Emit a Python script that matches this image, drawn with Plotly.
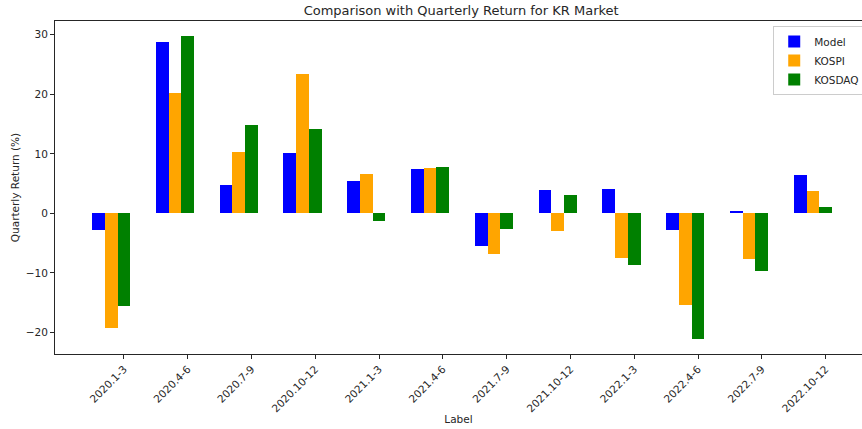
import plotly.graph_objects as go

labels = ['2020.1-3', '2020.4-6', '2020.7-9', '2020.10-12', '2021.1-3', '2021.4-6',
          '2021.7-9', '2021.10-12', '2022.1-3', '2022.4-6', '2022.7-9', '2022.10-12']
model = [-2.8, 28.7, 4.7, 10.1, 5.4, 7.4, -5.4, 4.0, 4.1, -2.8, 0.4, 6.4]
kospi = [-19.3, 20.2, 10.35, 23.4, 6.55, 7.6, -6.85, -2.9, -7.4, -15.4, -7.6, 3.75]
kosdaq = [-15.6, 29.7, 14.9, 14.2, -1.2, 7.8, -2.6, 3.05, -8.6, -21.0, -9.7, 1.0]

series = [('Model', model, 'blue', -0.5),
          ('KOSPI', kospi, 'orange', -0.3),
          ('KOSDAQ', kosdaq, 'green', -0.1)]

fig = go.Figure()
for name, vals, color, off in series:
    fig.add_trace(go.Bar(x=labels, y=vals, name=name, width=0.2, offset=off,
                         marker=dict(color=color, line=dict(width=0))))

axis_style = dict(showgrid=False, zeroline=False, showline=True, linecolor='#262626',
                  linewidth=1, ticks='outside', ticklen=4, tickcolor='#262626',
                  tickfont=dict(size=10.5, color='#262626'))

fig.update_layout(
    width=862, height=429,
    margin=dict(l=55, r=0, t=21, b=75, autoexpand=False),
    barmode='overlay',
    plot_bgcolor='white', paper_bgcolor='white',
    font=dict(family='DejaVu Sans', color='#262626'),
    title=dict(text='Comparison with Quarterly Return for KR Market', x=0.535, xanchor='center',
               y=0.975, yanchor='middle', font=dict(size=13)),
    xaxis=dict(**axis_style, mirror=True, range=[-1.08, 11.57], tickangle=-45,
               title=dict(text='Label', font=dict(size=10.5), standoff=2)),
    yaxis=dict(**axis_style, range=[-23.6, 32.3], tickvals=[-20, -10, 0, 10, 20, 30],
               title=dict(text='Quarterly Return (%)', font=dict(size=10.5), standoff=4)),
    legend=dict(x=0.89, y=0.985, xanchor='left', yanchor='top', bgcolor='white',
                bordercolor='#cccccc', borderwidth=1, font=dict(size=10.5), itemwidth=30),
    bargap=0,
)

# page body has a default margin, drop it so the figure sits at the corner
fig.write_html("out.html", config={'displayModeBar': False},
               post_script="document.body.style.margin='0';")
